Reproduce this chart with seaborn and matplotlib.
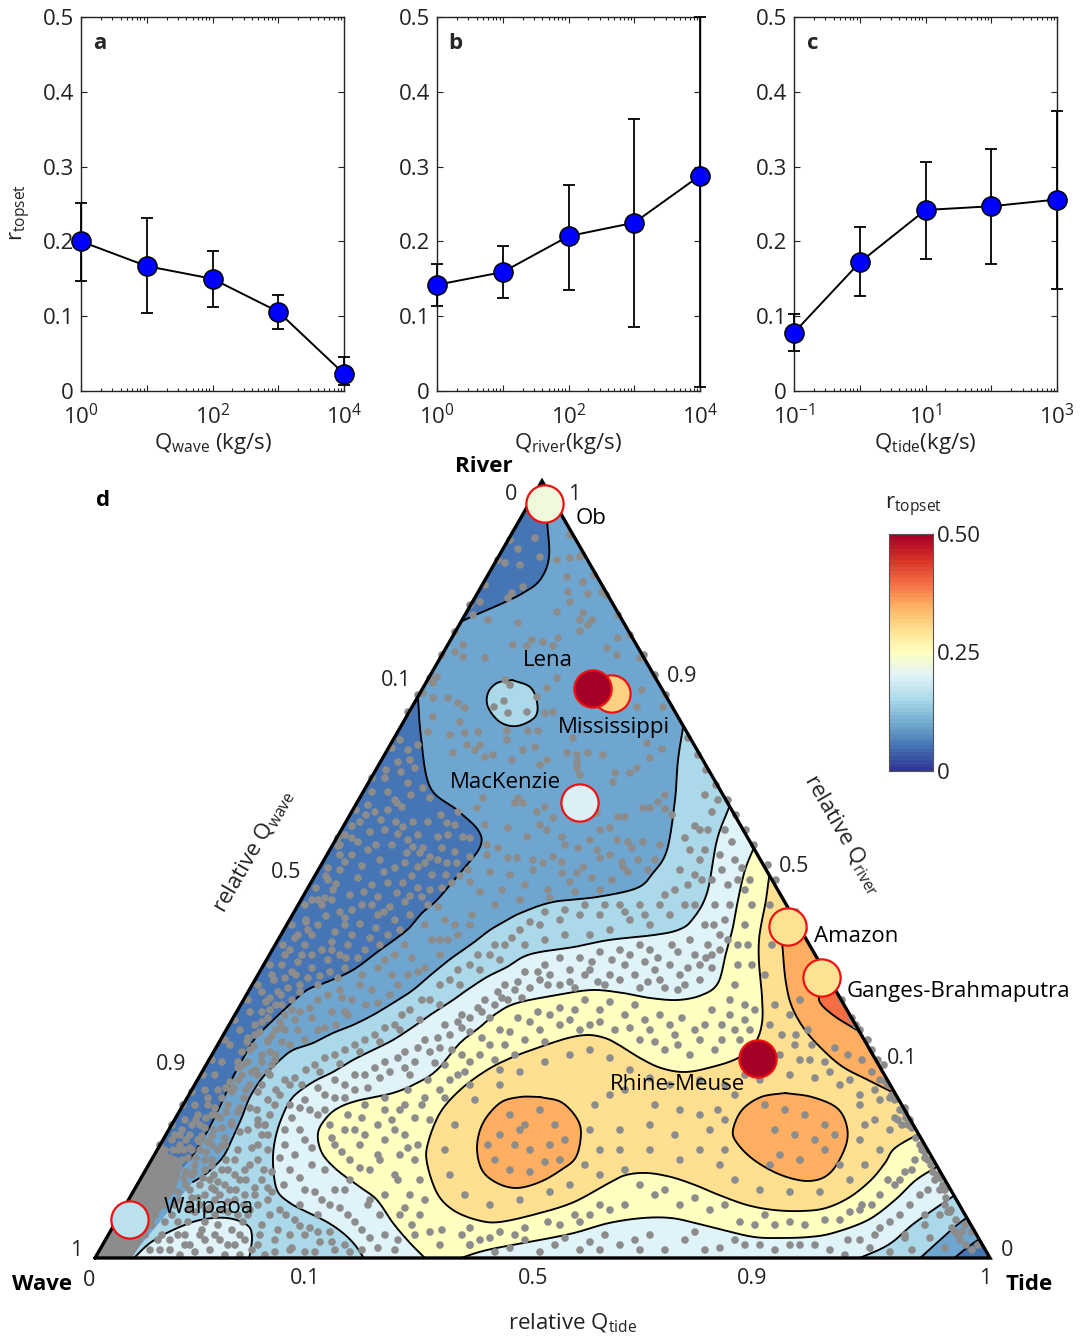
import numpy as np
import matplotlib
matplotlib.use("Agg")
import matplotlib.pyplot as plt
from matplotlib.patches import Polygon
from matplotlib.ticker import LogLocator, NullFormatter
import seaborn as sns

sns.set_style("ticks")
plt.rcParams["font.family"] = ["Open Sans", "DejaVu Sans"]
plt.rcParams["mathtext.fontset"] = "custom"
plt.rcParams["mathtext.rm"] = "Open Sans"
plt.rcParams["mathtext.default"] = "regular"

# panels a-c
q_wave = [1, 10, 100, 1000, 10000]
r_wave = [0.200, 0.167, 0.150, 0.106, 0.023]
r_wave_lo = [0.147, 0.104, 0.112, 0.083, 0.008]
r_wave_hi = [0.252, 0.231, 0.187, 0.128, 0.045]
q_river = [1, 10, 100, 1000, 10000]
r_river = [0.142, 0.159, 0.207, 0.225, 0.288]
r_river_lo = [0.113, 0.124, 0.135, 0.086, 0.006]
r_river_hi = [0.170, 0.194, 0.276, 0.363, 0.500]
q_tide = [0.1, 1, 10, 100, 1000]
r_tide = [0.078, 0.172, 0.242, 0.247, 0.256]
r_tide_lo = [0.054, 0.127, 0.177, 0.170, 0.136]
r_tide_hi = [0.103, 0.219, 0.306, 0.324, 0.375]

# named deltas
delta_names = ["Ob", "Mississippi", "Lena", "MacKenzie", "Amazon", "Ganges-Brahmaputra", "Rhine-Meuse", "Waipaoa"]
delta_r = [0.225, 0.315, 0.50, 0.195, 0.295, 0.295, 0.50, 0.165]
delta_x = [545, 612, 593, 580, 788, 822, 758, 130]
delta_y = [504, 694, 689, 803, 927, 978, 1059, 1220]

# contour lines, picture units
c_top = [(547,520),(549,557),(540,580),(523,593),(503,603),(480,613),(460,622)]
c_left = [(418,698),(421,737),(430,787),(457,810),(478,830),(480,847),(460,873),(437,900),(422,913),(407,930),(380,950),(353,970),(327,982),(307,990),(287,1007),(263,1030),(252,1043),(233,1077),(223,1100),(208,1130),(190,1160)]
c_l2 = [(684,722),(678,760),(675,800),(667,850),(653,873),(637,888),(597,897),(553,902),(523,912),(507,920),(490,930),(473,943),(453,957),(433,973),(413,990),(393,1003),(373,1015),(353,1025),(333,1033),(313,1043),(293,1050),(280,1060),(263,1077),(250,1097),(242,1117),(233,1137),(223,1157),(207,1173),(193,1182)]
c_l3 = [(730,805),(717,840),(707,893),(692,920),(678,930),(654,935),(609,940),(574,947),(540,952),(523,957),(507,967),(487,977),(467,990),(453,1000),(433,1013),(413,1027),(393,1040),(373,1050),(353,1060),(333,1072),(313,1082),(293,1097),(282,1117),(275,1140),(273,1163),(277,1190),(290,1203),(307,1212),(327,1222),(343,1233),(355,1245),(365,1260)]
c_l4 = [(755,845),(745,870),(738,900),(733,927),(726,953),(718,983),(702,995),(678,1000),(650,998),(623,993),(592,990),(557,995),(517,1003),(497,1013),(480,1027),(460,1043),(437,1070),(417,1083),(393,1093),(360,1100),(340,1107),(327,1117),(318,1133),(322,1153),(337,1170),(360,1187),(377,1200),(393,1223),(410,1243),(427,1260)]
c_b = [(455,1260),(487,1250),(540,1240),(574,1233),(609,1223),(643,1218),(671,1218),(695,1223),(723,1230),(754,1237),(781,1238),(809,1237),(833,1233),(868,1220),(895,1200),(916,1180),(940,1165)]
c_l5 = [(770,870),(766,900),(762,920),(759,940),(759,963),(762,997),(762,1023),(755,1043),(738,1058),(712,1067),(685,1072),(661,1068),(640,1058),(619,1045),(605,1038),(588,1035),(568,1038),(540,1047),(513,1057),(487,1070),(460,1090),(440,1113),(428,1143),(427,1163),(437,1193),(453,1210),(477,1220),(500,1222),(540,1213),(574,1202),(609,1183),(626,1175),(647,1173),(671,1177),(695,1185),(719,1195),(747,1205),(774,1210),(802,1211),(826,1208),(850,1197),(871,1180),(885,1163),(895,1148),(922,1132)]
c_c = [(855,1260),(888,1245),(912,1225),(933,1210),(958,1193)]
c_d = [(918,1260),(940,1240),(957,1225),(972,1214)]
c_e = [(952,1260),(968,1247),(984,1236)]
c_strip = [(792,905),(782,925),(783,953),(786,983),(792,1007),(805,1030),(823,1050),(843,1067),(868,1080),(892,1092)]
c_red = [(826,985),(819,1000),(833,1015),(860,1032)]
c_pocket = [(132,1260),(150,1243),(173,1230),(200,1220),(227,1218),(247,1225),(252,1237),(249,1260)]
c_lena = [(512,680),(530,687),(537,702),(535,717),(517,726),(500,722),(488,707),(488,693),(497,683),(512,680)]
c_blob1 = [(540,1097),(561,1102),(576,1117),(581,1133),(576,1157),(561,1170),(540,1182),(517,1188),(497,1183),(482,1170),(477,1147),(483,1123),(500,1103),(520,1097),(540,1097)]
c_blob2 = [(785,1093),(812,1097),(837,1108),(847,1127),(845,1148),(830,1173),(809,1181),(781,1175),(754,1160),(737,1143),(733,1130),(742,1110),(761,1097),(785,1093)]
c_corner = [(95,1258),(125,1205),(160,1147),(183,1165),(175,1190),(155,1220),(140,1245),(132,1258)]

# grey dots, picture units
dots_top = [(535,538),(518,549),(540,557),(505,563),(520,565),(523,587),(512,593),(508,598),(480,602),(473,615),(488,620),(518,623),(557,560),(570,558),(580,557),(567,577),(583,582),(568,592),(588,594),(602,592),(570,602),(557,612),(583,613),(592,620),(580,620),(588,625),(580,631),(618,638),(532,640),(513,645),(527,646),(543,642),(553,646),(558,638),(607,648),(617,655),(463,645),(455,652),(463,657),(485,658),(640,658),(437,677),(433,683),(423,693),(433,698),(448,698),(458,703),(465,708),(433,717),(460,722),(505,680),(510,685),(504,701),(494,707),(508,713),(527,712),(537,697),(547,688),(557,678),(545,713),(553,712),(642,690),(637,707),(663,707),(428,732),(450,735),(465,733),(478,732),(507,731),(528,731),(538,731),(507,740),(480,745),(467,745),(535,747),(523,750),(475,750),(453,753),(493,755),(485,757),(512,760),(567,753),(577,755),(588,753),(603,755),(650,758),(647,743),(662,749),(573,738),(577,762),(577,768),(547,760),(540,765),(580,775),(615,773),(630,773),(637,768),(613,782),(518,798),(523,803),(515,803),(483,798),(477,808),(537,812),(545,807),(553,818),(618,817),(625,817),(643,808),(650,808),(658,802),(665,795),(665,809),(672,815),(597,813),(485,825),(508,828),(540,825),(547,830),(562,837),(527,837),(487,845),(498,848),(487,855),(508,858),(517,858),(533,860),(543,863),(553,857),(562,862),(600,830),(610,828),(590,840),(597,850),(578,848),(565,845),(628,842),(632,848),(617,840),(643,842),(638,860),(622,862),(623,867),(628,872),(610,855),(600,858),(583,867),(577,873),(562,873),(533,870),(510,875),(490,872),(470,882),(480,892),(502,890),(525,885),(548,890),(570,882),(592,878),(612,880),(648,870),(655,860),(660,845),(600,890),(575,892),(550,898),(520,900),(495,905),(472,915),(455,925),(440,940)]
dots_strip = [(385,830),(395,800),(398,762),(410,760),(400,740),(418,745),(408,750),(408,783),(423,788),(430,798),(397,803),(402,807),(388,810),(375,812),(413,822),(403,827),(428,822),(447,823),(455,825),(458,812),(408,840),(438,837),(392,845),(413,847),(423,848),(407,853),(420,853),(430,857),(455,852),(463,837),(470,838),(395,868),(405,863),(418,867),(425,863),(438,860),(447,863),(457,863),(470,857),(468,870),(388,883),(403,883),(397,893),(418,888),(430,890),(452,883),(390,907),(405,902),(422,897),(438,907),(345,835),(360,822),(352,855),(368,850),(380,860),(340,870),(358,878),(372,885),(350,895),(333,890),(322,905),(340,912),(362,905),(378,915),(395,920),(410,915),(318,925),(335,932),(352,935),(370,938),(388,935),(305,945),(322,950),(340,955),(358,958),(298,962),(312,968),(330,972),(345,968),(285,978),(300,985),(318,985),(278,992),(292,1000),(270,1010),(285,1015),(262,1022),(276,1030),(255,1035),(268,1042),(250,1050),(262,1055),(243,1065),(256,1070),(238,1080),(250,1085),(232,1092),(244,1098),(228,1105),(238,1112),(220,1118),(232,1125),(214,1130),(225,1138),(208,1142),(218,1150),(200,1150),(212,1160),(195,1165),(325,898),(345,925),(312,935),(296,975),(328,960),(266,1002),(302,955),(282,1005),(247,1042),(238,1062),(226,1088),(215,1108),(205,1128),(198,1140),(188,1158),(178,1168),(186,1140),(196,1120),(208,1105),(218,1090),(186,1172),(173,1150),(180,1135)]
dots_strip2 = [(386,770),(401,772),(415,768),(372,792),(388,792),(411,795),(366,815),(381,820),(396,822),(441,815),(352,826),(370,832),(398,834),(418,835),(448,835),(338,846),(358,842),(376,845),(442,848),(345,862),(362,866),(384,872),(412,876),(432,875),(446,875),(326,876),(336,884),(364,892),(378,897),(410,896),(442,888),(460,876),(312,900),(332,900),(352,910),(372,905),(384,912),(428,905),(306,922),(326,916),(345,918),(360,924),(376,928),(400,930),(298,935),(308,930),(332,942),(348,945),(365,950),(380,945),(290,950),(312,955),(332,950),(346,958),(282,965),(292,972),(320,976),(338,978),(274,980),(288,988),(308,978),(270,998),(281,995),(300,992),(262,1012),(276,1005),(292,1010),(255,1025),(268,1018),(280,1022),(248,1038),(260,1032),(272,1036),(242,1052),(254,1046),(238,1068),(248,1062),(230,1082),(242,1075),(222,1098),(234,1088),(216,1115),(226,1112),(206,1118),(212,1136),(202,1136),(192,1150),(206,1152),(184,1150),(196,1158)]
dots_midblue = [(425,925),(405,945),(385,960),(362,975),(340,990),(318,1000),(300,1012),(285,1030),(270,1052),(258,1075),(250,1108),(240,1132),(226,1160),(214,1175),(203,1178),(192,1175),(432,940),(412,958),(392,975),(372,990),(352,1000),(332,1012),(312,1018),(298,1030),(282,1042),(272,1065),(262,1085),(257,1110),(248,1130),(238,1150),(228,1170),(218,1182),(470,925),(448,940),(418,972),(398,985),(378,1003),(345,1012),(325,1028),(395,955),(378,968),(360,985),(342,998),(328,995),(310,1008),(295,1020),(282,1028),(268,1040),(262,1062),(252,1072),(246,1090),(240,1108),(232,1122),(222,1146),(212,1166),(445,920),(458,935),(440,955),(425,968),(408,975),(390,995),(366,1005),(348,1015),(336,1025),(318,1030),(305,1040),(290,1045),(276,1055),(268,1072),(258,1092)]
dots_light = [(700,830),(690,850),(680,870),(695,875),(675,890),(660,905),(640,905),(620,905),(600,915),(580,915),(560,920),(540,925),(520,930),(505,945),(490,955),(470,965),(450,980),(430,1000),(410,1010),(395,1025),(375,1035),(355,1045),(335,1055),(315,1065),(295,1078),(280,1095),(270,1115),(262,1135),(258,1160),(262,1180),(268,1200),(280,1210),(295,1220),(305,1235),(320,1242),(335,1250),(315,1252),(290,1250),(275,1240),(262,1225),(250,1210),(235,1200),(220,1195),(205,1195),(190,1210),(240,1180),(250,1165),(258,1145),(268,1100),(285,1080),(700,860),(712,812),(708,830),(705,850),(695,905),(670,915),(650,925),(630,920),(610,930),(590,935),(565,935),(545,940),(525,945),(500,960),(480,970),(460,985),(440,1005),(420,1020),(400,1030),(380,1042),(360,1052),(340,1064),(320,1072),(302,1085),(290,1105),(285,1130),(280,1158),(284,1185),(300,1205),(318,1215),(330,1232),(345,1245),(200,1235),(185,1245),(170,1240),(160,1250),(178,1222),(195,1212),(210,1208),(222,1210),(238,1215),(258,1245),(265,1255),(275,1252),(310,1228),(290,1235),(890,1252),(905,1235),(925,1225),(940,1215),(912,1250),(930,1238),(950,1212),(955,1232),(965,1225),(945,1248),(960,1240),(972,1232),(978,1245)]
dots_light2 = [(685,838),(695,826),(705,795),(718,800),(688,885),(702,880),(665,895),(685,905),(645,915),(625,912),(605,905),(585,905),(565,910),(545,912),(530,922),(512,938),(495,945),(478,955),(458,970),(440,985),(422,1000),(402,1015),(385,1028),(365,1040),(345,1050),(325,1058),(306,1070),(290,1085),(275,1105),(265,1125),(268,1150),(264,1170),(272,1192),(286,1215),(300,1226),(318,1232),(332,1242),(270,1215),(255,1195),(245,1195),(230,1190),(212,1188),(200,1205),(278,1230),(292,1248),(305,1252),(350,1252),(260,1235),(268,1135),(276,1090),(258,1125),(252,1148),(246,1180)]
dots_pale = [(725,830),(720,855),(735,860),(712,880),(728,885),(742,868),(715,905),(725,920),(705,925),(708,945),(720,950),(690,940),(672,945),(650,950),(630,955),(612,960),(592,962),(570,970),(545,965),(525,972),(505,985),(485,1000),(462,1015),(445,1025),(425,1040),(405,1052),(385,1062),(365,1075),(345,1085),(325,1095),(310,1110),(300,1130),(295,1155),(300,1178),(315,1192),(330,1205),(348,1215),(362,1230),(378,1248),(395,1250),(380,1215),(345,1190),(325,1170),(312,1148),(318,1115),(335,1098),(355,1090),(380,1078),(405,1068),(430,1052),(450,1035),(470,1018),(495,1005),(515,990),(540,980),(560,985),(585,975),(610,975),(635,975),(660,980),(685,985),(700,965),(712,955),(695,955),(670,965),(645,962),(620,980),(598,982),(575,988),(550,975),(530,988),(508,1000),(490,1018),(470,1032),(452,1050),(435,1063),(410,1075),(720,935),(700,980),(688,968),(665,988),(640,988),(440,1245),(470,1245),(510,1248),(555,1245),(590,1242),(620,1245),(650,1235),(685,1240),(720,1248),(745,1245),(775,1250),(800,1245),(830,1250),(860,1240),(880,1228),(900,1215),(920,1195),(935,1180),(945,1190),(925,1215),(905,1238),(870,1248),(845,1255),(705,1250),(665,1250),(640,1250),(600,1250),(580,1250),(540,1252),(495,1252)]
dots_pale2 = [(732,842),(722,870),(730,905),(714,925),(712,968),(678,952),(658,958),(640,945),(620,950),(600,952),(580,958),(560,958),(538,972),(518,982),(498,992),(478,1008),(458,1022),(438,1038),(418,1048),(398,1058),(375,1068),(355,1075),(335,1080),(318,1088),(305,1100),(292,1118),(285,1145),(290,1170),(305,1190),(322,1200),(340,1208),(355,1222),(370,1238),(362,1250),(385,1235),(398,1240),(368,1205),(350,1180),(335,1190),(312,1165),(305,1140),(300,1108),(325,1110),(345,1098),(368,1088),(390,1072),(415,1062),(440,1048),(462,1028),(482,1012),(502,998),(522,998),(548,985),(570,982),(590,970),(625,965),(655,970),(680,975),(706,958),(728,940),(738,880),(678,990),(648,982),(605,985),(470,1245),(525,1240),(565,1238),(605,1235),(635,1240),(695,1232),(735,1240),(760,1245),(790,1245),(815,1245),(848,1240),(875,1235),(890,1222),(910,1205),(928,1190),(940,1178)]
dots_yellow = [(750,880),(752,905),(745,925),(748,945),(738,965),(752,965),(735,985),(745,1005),(755,1010),(750,1030),(730,1015),(712,1010),(695,1030),(670,1025),(645,1020),(625,1015),(600,1010),(575,1010),(550,1015),(530,1022),(510,1032),(490,1045),(470,1062),(450,1080),(425,1098),(405,1105),(385,1110),(362,1118),(345,1130),(335,1145),(350,1160),(370,1170),(395,1175),(410,1195),(420,1215),(430,1232),(415,1160),(405,1135),(385,1140),(365,1135),(392,1120),(415,1118),(440,1090),(465,1072),(495,1060),(525,1040),(560,1025),(590,1025),(615,1030),(640,1040),(665,1050),(690,1055),(715,1050),(740,1040),(735,1030),(700,1040),(675,1035),(650,1030),(570,1020),(540,1030),(505,1045),(480,1055),(458,1075),(430,1120),(418,1145),(400,1155),(378,1155),(360,1145),(370,1200),(400,1215),(415,1235),(462,1235),(500,1232),(525,1228),(560,1225),(590,1215),(625,1205),(655,1195),(680,1205),(710,1210),(740,1222),(775,1225),(805,1225),(840,1220),(860,1210),(880,1195),(900,1180),(915,1160),(905,1172),(888,1180),(862,1205),(765,1215),(610,1210),(575,1215),(480,1240)]
dots_yellow2 = [(745,890),(738,945),(730,1000),(722,1025),(745,1020),(705,1025),(682,1018),(660,1015),(635,1005),(610,1002),(585,1000),(560,1008),(538,1012),(518,1018),(500,1030),(482,1038),(462,1055),(445,1065),(428,1080),(408,1090),(385,1098),(365,1105),(348,1115),(330,1125),(332,1138),(342,1152),(360,1168),(380,1160),(398,1180),(385,1195),(405,1208),(412,1225),(425,1200),(420,1180),(408,1148),(395,1130),(378,1125),(355,1130),(400,1110),(422,1105),(445,1098),(470,1085),(500,1070),(515,1055),(545,1042),(580,1030),(600,1022),(630,1028),(655,1042),(678,1045),(722,1040),(442,1230),(470,1228),(490,1238),(515,1235),(548,1222),(580,1222),(600,1205),(640,1185),(665,1190),(695,1198),(725,1205),(755,1225),(790,1222),(825,1220),(850,1212),(872,1205),(895,1185),(912,1170),(925,1152)]
dots_orange = [(770,905),(772,945),(765,975),(775,1005),(770,1025),(782,1035),(795,1045),(810,1060),(830,1072),(850,1080),(875,1090),(890,1098),(905,1108),(880,1100),(860,1095),(840,1085),(815,1078),(790,1075),(770,1065),(780,1055),(745,1075),(725,1085),(700,1080),(670,1085),(650,1078),(630,1070),(610,1058),(590,1050),(570,1055),(545,1062),(520,1072),(500,1085),(475,1100),(455,1125),(445,1150),(450,1175),(465,1195),(490,1205),(520,1200),(550,1192),(585,1165),(600,1150),(590,1130),(595,1105),(610,1095),(625,1090),(655,1105),(680,1110),(700,1115),(725,1120),(620,1130),(650,1125),(675,1135),(700,1150),(720,1165),(650,1150),(625,1170),(600,1175),(570,1185),(620,1150),(680,1160),(735,1180),(760,1190),(790,1192),(820,1192),(850,1180),(865,1165),(880,1150),(890,1130),(875,1120),(860,1105),(895,1118),(910,1120),(860,1140),(865,1125),(800,1060),(760,1080),(735,1095),(718,1110),(710,1130),(725,1150),(790,1015),(796,1035),(812,1045),(825,1062),(848,1055),(862,1060),(872,1072),(880,1080),(808,1030),(800,1000),(835,1048)]
dots_blobs = [(510,1115),(525,1125),(540,1110),(555,1125),(500,1135),(515,1145),(530,1150),(550,1145),(565,1140),(495,1160),(510,1170),(530,1172),(545,1162),(520,1130),(560,1160),(488,1145),(765,1105),(785,1110),(805,1115),(825,1125),(775,1130),(795,1135),(815,1140),(835,1135),(780,1155),(800,1160),(825,1150),(770,1165),(840,1165)]
dots_corner = [(165,1165),(175,1180),(190,1190),(180,1200),(165,1205),(200,1185),(205,1170),(175,1160),(160,1185),(148,1200),(155,1215),(145,1235),(135,1225),(172,1215),(188,1222),(205,1222),(218,1225),(232,1230),(245,1240),(220,1240),(235,1245),(210,1250),(195,1252),(180,1255),(162,1235),(150,1250),(225,1255),(240,1255),(175,1135),(165,1150),(185,1120),(195,1105),(205,1090),(215,1075),(222,1062),(230,1045),(240,1030),(250,1012),(262,992),(272,975),(285,955),(295,938),(306,920),(318,900),(328,880),(340,855),(352,838),(368,805),(385,778),(190,1135),(178,1150),(198,1115),(208,1098),(168,1170),(157,1175),(150,1178),(143,1190),(200,1125),(212,1115),(172,1125),(160,1145),(183,1105),(192,1092),(203,1075),(212,1060),(225,1040),(235,1020),(248,1000),(258,985),(270,965),(283,945),(292,925),(305,905),(316,888),(328,868),(340,845),(186,1185),(168,1192),(152,1225),(190,1205),(215,1200),(228,1212),(243,1222),(205,1240),(185,1235),(255,1188),(245,1170),(235,1160),(225,1145),(265,1125),(258,1120),(270,1075),(275,1060)]
dots_corner2 = [(172,1140),(182,1130),(192,1125),(180,1145),(190,1148),(200,1142),(170,1158),(182,1160),(194,1172),(184,1178),(172,1172),(165,1192),(178,1192),(198,1198),(206,1210),(192,1198),(175,1205),(165,1222),(178,1235),(190,1245),(202,1230),(215,1215),(228,1202),(236,1190),(244,1205),(222,1170),(215,1190),(210,1180),(225,1185),(235,1175),(212,1145),(222,1128),(205,1160),(158,1240),(170,1250),(215,1235),(228,1245),(240,1235),(252,1250),(248,1215),(258,1205),(268,1188),(272,1172)]
dots_edge = [(937,1175),(943,1185),(931,1165),(922,1150),(920,1145),(908,1125),(900,1110),(902,1125),(886,1082),(878,1060),(868,1040),(860,1030),(852,1018),(842,1000),(830,980),(804,930),(796,912),(776,880),(768,865),(754,845),(746,830),(736,815),(728,800),(716,785),(706,770),(698,755),(688,738),(951,1210),(956,1220),(962,1232),(946,1198),(948,1212),(958,1235),(966,1245),(940,1190),(928,1160),(916,1138),(912,1128),(906,1118),(895,1100),(888,1085),(892,1095),(905,1112),(972,1250),(952,1228),(945,1205),(933,1172),(925,1158),(898,1120),(884,1065),(872,1050),(856,1025),(666,695),(655,675),(644,655),(630,635),(618,615),(606,595),(594,575),(582,555),(570,535),(408,712),(418,695),(430,678),(442,655),(455,632),(470,605),(485,585),(498,560),(510,540),(392,748),(372,778),(356,810),(338,838)]

dots = np.array(dots_top + dots_strip + dots_strip2 + dots_midblue + dots_light + dots_light2 + dots_pale + dots_pale2 + dots_yellow + dots_yellow2 + dots_orange + dots_blobs + dots_corner + dots_corner2 + dots_edge)

c_dark, c_mid, c_light, c_pale, c_yellow, c_sand, c_orange, c_red_band = "#4575b4", "#6fa6d0", "#abd9e9", "#e0f3f8", "#ffffbf", "#fee090", "#fdae61", "#f46d43"
cmap = sns.color_palette("RdYlBu_r", as_cmap=True)
dot_grey = "#8c8c8c"
ink = "#222222"


def smooth(pts, n=10):
    # catmull-rom through the digitized vertices
    p = np.array(pts, dtype=float)
    p = np.vstack([2 * p[0] - p[1], p, 2 * p[-1] - p[-2]])
    out = []
    for i in range(1, len(p) - 2):
        for t in np.linspace(0, 1, n, endpoint=False):
            a, b, c, d = p[i - 1], p[i], p[i + 1], p[i + 2]
            out.append(0.5 * (2 * b + (c - a) * t + (2 * a - 5 * b + 4 * c - d) * t**2 + (3 * b - a - 3 * c + d) * t**3))
    out.append(p[-2])
    return np.array(out)


fig = plt.figure(figsize=(10.81, 13.43), dpi=100)

ax = fig.add_axes([0, 0, 1, 1])
ax.set_xlim(0, 1081)
ax.set_ylim(1343, 0)
ax.axis("off")
wave_c, river_c, tide_c = (95, 1258), (542, 481), (990, 1258)
tri = Polygon([wave_c, river_c, tide_c], closed=True, transform=ax.transData, fc=c_mid, lw=0, zorder=1)
ax.add_patch(tri)


def band(parts, color, z):
    xy = np.vstack(parts)
    for art in ax.fill(xy[:, 0], xy[:, 1], color=color, lw=0, zorder=z):
        art.set_clip_path(tri)


def line(pts):
    xy = smooth(pts)
    for art in ax.plot(xy[:, 0], xy[:, 1], color="k", lw=1.35, zorder=3):
        art.set_clip_path(tri)


band([smooth(c_top), [river_c]], c_dark, 2)
band([smooth(c_left), [wave_c, (417, 690)]], c_dark, 2)
band([smooth(c_l2), [(120, 1270), (900, 1270)], smooth(c_d), [(990, 1214), (720, 700)]], c_light, 2.1)
band([smooth(c_d), [(990, 1270), (990, 1214)]], c_mid, 2.12)
band([smooth(c_e), [(990, 1270)]], c_dark, 2.15)
band([smooth(c_l3), [(365, 1270), (855, 1270)], smooth(c_c), [(990, 1193), (750, 780)]], c_pale, 2.2)
band([smooth(c_pocket)], c_pale, 2.2)
band([smooth(c_l4), smooth(c_b), [(990, 1165), (790, 830)]], c_yellow, 2.3)
band([smooth(c_l5), [(990, 1132), (800, 850)]], c_sand, 2.4)
band([smooth(c_strip), [(990, 1092), (810, 890)]], c_orange, 2.5)
band([smooth(c_blob1)], c_orange, 2.5)
band([smooth(c_blob2)], c_orange, 2.5)
band([smooth(c_red), [(880, 1032), (840, 985)]], c_red_band, 2.6)
band([smooth(c_lena)], c_light, 2.5)
band([c_corner], dot_grey, 2.7)

for c in [c_top, c_left, c_l2, c_l3, c_l4, c_b, c_l5, c_c, c_d, c_e, c_strip, c_red, c_pocket, c_lena, c_blob1, c_blob2]:
    line(c)

sns.scatterplot(x=dots[:, 0], y=dots[:, 1], s=30, color=dot_grey, edgecolor="none", linewidth=0, ax=ax, zorder=4, legend=False)
ax.plot(*zip(wave_c, river_c, tide_c, wave_c), color="k", lw=2.4, zorder=5, solid_joinstyle="miter")
ax.scatter(delta_x, delta_y, c=delta_r, cmap=cmap, vmin=0, vmax=0.5, s=720, edgecolors="#ee1111", linewidths=1.6, zorder=6, clip_on=False)
ax.set_xlim(0, 1081)
ax.set_ylim(1343, 0)

fs = 16
name_xy = [(591, 518), (614, 727), (548, 660), (505, 782), (856, 936), (958, 991), (677, 1084), (209, 1207)]
for name, (x, y) in zip(delta_names, name_xy):
    ax.text(x, y, name, ha="center", va="center", fontsize=fs, color="k", zorder=7)
for s, x, y in [("0", 89, 1280), ("0.1", 305, 1279), ("0.5", 533, 1279), ("0.9", 752, 1279), ("1", 985, 1279),
                ("1", 76, 1251), ("0.9", 171, 1064), ("0.5", 286, 873), ("0.1", 396, 681), ("0", 511, 494),
                ("1", 574, 494), ("0.9", 682, 676), ("0.5", 794, 866), ("0.1", 902, 1058), ("0", 1007, 1251)]:
    ax.text(x, y, s, ha="center", va="center", fontsize=fs - 0.5, color=ink)
for s, x, y in [("River", 484, 466), ("Wave", 42, 1284), ("Tide", 1029, 1284), ("d", 103, 501)]:
    ax.text(x, y, s, ha="center", va="center", fontsize=fs, fontweight="bold", color="k")
ax.text(254, 851, "relative Q$_{wave}$", ha="center", va="center", rotation=60, fontsize=fs, color=ink)
ax.text(843, 835, "relative Q$_{river}$", ha="center", va="center", rotation=-60, fontsize=fs, color=ink)
ax.text(572, 1323, "relative Q$_{tide}$", ha="center", va="center", fontsize=fs, color=ink)
ax.text(914, 507, "r$_{topset}$", ha="center", va="center", fontsize=fs, color=ink)
ax.text(21, 212, "r$_{topset}$", ha="center", va="center", rotation=90, fontsize=fs, color=ink)

# panels a-c
panels = [
    (81, q_wave, r_wave, r_wave_lo, r_wave_hi, "Q$_{wave}$ (kg/s)", "a", [0, 2, 4]),
    (437, q_river, r_river, r_river_lo, r_river_hi, "Q$_{river}$(kg/s)", "b", [0, 2, 4]),
    (794, q_tide, r_tide, r_tide_lo, r_tide_hi, "Q$_{tide}$(kg/s)", "c", [-1, 1, 3]),
]
for left, qs, rs, lo, hi, xlab, letter, decades in panels:
    pax = fig.add_axes([left / 1081, 1 - 391 / 1343, 263 / 1081, 374 / 1343], facecolor="white")
    pax.set_xscale("log")
    sns.lineplot(x=qs, y=rs, color="k", lw=1.4, errorbar=None, ax=pax, zorder=3)
    err = [np.array(rs) - np.array(lo), np.array(hi) - np.array(rs)]
    pax.errorbar(qs, rs, yerr=err, fmt="none", ecolor="k", elinewidth=1.3, capsize=4.6, capthick=1.3, clip_on=False, zorder=3)
    sns.scatterplot(x=qs, y=rs, s=190, color="#0000ff", edgecolor="k", linewidth=1.1, ax=pax, zorder=4, clip_on=False, legend=False)
    pax.set_xlim(qs[0], qs[-1])
    pax.set_ylim(0, 0.5)
    pax.set_yticks([0, 0.1, 0.2, 0.3, 0.4, 0.5])
    pax.set_yticklabels(["0", "0.1", "0.2", "0.3", "0.4", "0.5"])
    pax.set_xticks(qs)
    pax.set_xticklabels([f"10$^{{{d}}}$" if i % 2 == 0 else "" for i, d in enumerate(range(decades[0], decades[-1] + 1))])
    pax.xaxis.set_minor_locator(LogLocator(base=10, subs=range(2, 10), numticks=20))
    pax.xaxis.set_minor_formatter(NullFormatter())
    pax.tick_params(axis="both", which="both", direction="in", top=True, right=True, width=0.8, color=ink)
    pax.tick_params(axis="both", which="major", length=4, labelsize=16, labelcolor=ink)
    pax.tick_params(axis="x", which="major", pad=9)
    pax.tick_params(axis="y", which="major", pad=5)
    pax.tick_params(axis="x", which="minor", length=2.5)
    pax.set_xlabel(xlab, fontsize=fs, color=ink, labelpad=2)
    for sp in pax.spines.values():
        sp.set_linewidth(1.0)
        sp.set_color(ink)
    pax.text(0.07, 0.93, letter, transform=pax.transAxes, fontsize=fs, fontweight="bold", ha="center", va="center")

# colour bar
cax = fig.add_axes([889 / 1081, 1 - 771 / 1343, 44 / 1081, 237 / 1343])
cbar_vals = np.linspace(0.5, 0, 64).reshape(-1, 1)
sns.heatmap(cbar_vals, cmap=cmap, vmin=0, vmax=0.5, cbar=False, xticklabels=False, yticklabels=False, ax=cax)
cax.set_yticks([0, 16, 32, 48, 64])
cax.set_yticklabels(["0.50", "", "0.25", "", "0"], rotation=0)
cax.get_yticklabels()[-1].set_va("bottom")
cax.tick_params(axis="y", left=False, right=True, labelleft=False, labelright=True, direction="in", length=8, width=0.8, pad=3, labelsize=16, labelcolor=ink)
for sp in cax.spines.values():
    sp.set_visible(True)
    sp.set_linewidth(0.8)
    sp.set_color("#555555")

fig.savefig("out.png", dpi=100)
